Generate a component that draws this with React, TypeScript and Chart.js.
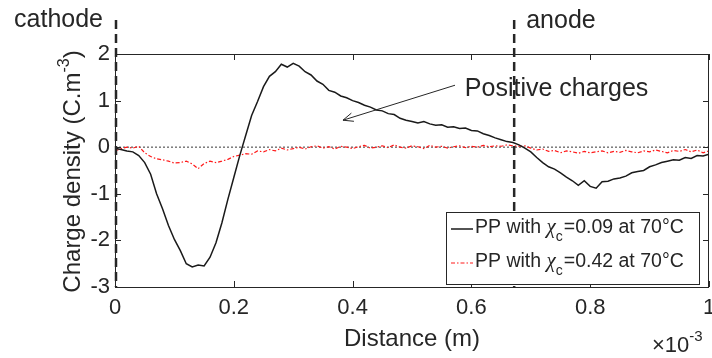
import { useEffect, useRef } from 'react';
import { Chart, registerables } from 'chart.js';
Chart.register(...registerables);

// Distance (×10^-3 m)
const distance = [
  0.00, 0.01, 0.02, 0.03, 0.04, 0.05, 0.06, 0.07, 0.08, 0.09,
  0.10, 0.11, 0.12, 0.13, 0.14, 0.15, 0.16, 0.17, 0.18, 0.19,
  0.20, 0.21, 0.22, 0.23, 0.24, 0.25, 0.26, 0.27, 0.28, 0.29,
  0.30, 0.31, 0.32, 0.33, 0.34, 0.35, 0.36, 0.37, 0.38, 0.39,
  0.40, 0.41, 0.42, 0.43, 0.44, 0.45, 0.46, 0.47, 0.48, 0.49,
  0.50, 0.51, 0.52, 0.53, 0.54, 0.55, 0.56, 0.57, 0.58, 0.59,
  0.60, 0.61, 0.62, 0.63, 0.64, 0.65, 0.66, 0.67, 0.68, 0.69,
  0.70, 0.71, 0.72, 0.73, 0.74, 0.75, 0.76, 0.77, 0.78, 0.79,
  0.80, 0.81, 0.82, 0.83, 0.84, 0.85, 0.86, 0.87, 0.88, 0.89,
  0.90, 0.91, 0.92, 0.93, 0.94, 0.95, 0.96, 0.97, 0.98, 0.99,
  1.00,
];

// PP with χc = 0.09 at 70°C (C.m^-3)
const chargeLowCryst = [
  -0.02, -0.05, -0.08, -0.10, -0.18, -0.33, -0.58, -1.00, -1.32, -1.68,
  -1.98, -2.22, -2.50, -2.57, -2.53, -2.55, -2.36, -2.05, -1.62, -1.12,
  -0.65, -0.18, 0.25, 0.68, 0.98, 1.30, 1.52, 1.62, 1.78, 1.72,
  1.80, 1.74, 1.62, 1.55, 1.42, 1.35, 1.22, 1.18, 1.10, 1.06,
  1.00, 0.96, 0.90, 0.86, 0.80, 0.78, 0.72, 0.70, 0.62, 0.58,
  0.55, 0.52, 0.55, 0.50, 0.47, 0.48, 0.43, 0.44, 0.40, 0.41,
  0.36, 0.35, 0.29, 0.25, 0.20, 0.16, 0.12, 0.10, 0.05, -0.02,
  -0.10, -0.22, -0.33, -0.42, -0.47, -0.55, -0.64, -0.72, -0.82, -0.72,
  -0.84, -0.88, -0.74, -0.73, -0.68, -0.66, -0.62, -0.55, -0.52, -0.50,
  -0.42, -0.38, -0.33, -0.30, -0.27, -0.28, -0.22, -0.24, -0.18, -0.19,
  -0.15,
];

// PP with χc = 0.42 at 70°C (C.m^-3)
const chargeHighCryst = [
  -0.08, -0.03, 0.00, -0.02, 0.02, -0.12, -0.20, -0.25, -0.27, -0.30,
  -0.34, -0.33, -0.30, -0.36, -0.46, -0.35, -0.30, -0.33, -0.30, -0.26,
  -0.20, -0.17, -0.14, -0.15, -0.08, -0.10, -0.05, -0.08, -0.02, -0.06,
  -0.03, 0.00, -0.04, 0.01, 0.03, -0.02, 0.01, -0.04, 0.02, 0.00,
  -0.03, 0.01, 0.04, -0.02, 0.00, 0.03, -0.01, 0.05, 0.00, -0.02,
  0.03, 0.01, -0.03, 0.04, 0.00, 0.02, -0.02, 0.01, 0.03, -0.01,
  0.02, 0.00, 0.04, 0.01, 0.03, 0.02, 0.05, 0.03, 0.02, 0.03,
  -0.02, -0.06, -0.04, -0.09, -0.07, -0.12, -0.08, -0.10, -0.13, -0.09,
  -0.12, -0.10, -0.08, -0.12, -0.09, -0.11, -0.07, -0.10, -0.12, -0.08,
  -0.10, -0.06, -0.09, -0.12, -0.07, -0.09, -0.05, -0.10, -0.06, -0.12,
  -0.08,
];

const zeroLineX = [0, 1];
const zeroLineY = [0, 0];

const cathodeX = 0;
const anodeX = 0.672;

const legendLabels = [
  { pre: 'PP with ', sub: 'c', post: '=0.09 at 70°C' },
  { pre: 'PP with ', sub: 'c', post: '=0.42 at 70°C' },
];

// "Positive charges" annotation (data coordinates)
const annotText = 'Positive charges';
const annotTextPos = { x: 0.589, y: 1.094 };
const arrowFrom = { x: 0.5724, y: 1.33 };
const arrowTo = { x: 0.3838, y: 0.579 };

const FONT = '"Liberation Sans", Arial, Helvetica, sans-serif';
const TXT = '#262626';

const fmtTick = (v: any) => String(+Number(v).toFixed(1));

const decorPlugin = {
  id: 'decor',
  afterDatasetsDraw(chart: any) {
    const { ctx, chartArea: ca, scales } = chart;
    const xs = scales.x, ys = scales.y;
    ctx.save();
    // frame
    ctx.strokeStyle = TXT;
    ctx.lineWidth = 1;
    ctx.setLineDash([]);
    ctx.strokeRect(ca.left + 0.5, ca.top + 0.5, ca.right - ca.left - 1, ca.bottom - ca.top);
    // inward ticks
    const tl = 6;
    ctx.beginPath();
    xs.ticks.forEach((t: any) => {
      const px = Math.round(xs.getPixelForValue(t.value)) + 0.5;
      ctx.moveTo(px, ca.bottom); ctx.lineTo(px, ca.bottom - tl);
      ctx.moveTo(px, ca.top); ctx.lineTo(px, ca.top + tl);
    });
    ys.ticks.forEach((t: any) => {
      const py = Math.round(ys.getPixelForValue(t.value)) + 0.5;
      ctx.moveTo(ca.left, py); ctx.lineTo(ca.left + tl, py);
      ctx.moveTo(ca.right, py); ctx.lineTo(ca.right - tl, py);
    });
    ctx.stroke();

    // electrode lines
    ctx.lineWidth = 2.5;
    ctx.setLineDash([9, 5]);
    [cathodeX, anodeX].forEach((v) => {
      const px = xs.getPixelForValue(v) + (v === cathodeX ? 1 : 0);
      ctx.beginPath();
      ctx.moveTo(px, ca.top - 34);
      ctx.lineTo(px, ca.bottom);
      ctx.stroke();
    });
    ctx.setLineDash([]);

    // electrode labels
    ctx.fillStyle = TXT;
    ctx.font = `25px ${FONT}`;
    ctx.textBaseline = 'alphabetic';
    ctx.textAlign = 'right';
    ctx.fillText('cathode', xs.getPixelForValue(cathodeX) - 12, ca.top - 27);
    ctx.textAlign = 'left';
    ctx.fillText('anode', xs.getPixelForValue(anodeX) + 12, ca.top - 26);

    // annotation
    ctx.fillText(annotText, xs.getPixelForValue(annotTextPos.x), ys.getPixelForValue(annotTextPos.y));
    const x1 = xs.getPixelForValue(arrowFrom.x), y1 = ys.getPixelForValue(arrowFrom.y);
    const x2 = xs.getPixelForValue(arrowTo.x), y2 = ys.getPixelForValue(arrowTo.y);
    ctx.strokeStyle = TXT;
    ctx.lineWidth = 1;
    ctx.beginPath();
    ctx.moveTo(x1, y1); ctx.lineTo(x2, y2);
    const ang = Math.atan2(y2 - y1, x2 - x1);
    const hl = 11, ha = 0.4;
    ctx.moveTo(x2 - hl * Math.cos(ang - ha), y2 - hl * Math.sin(ang - ha));
    ctx.lineTo(x2, y2);
    ctx.lineTo(x2 - hl * Math.cos(ang + ha), y2 - hl * Math.sin(ang + ha));
    ctx.stroke();

    // y-axis title with superscript
    ctx.save();
    ctx.translate(80, (ca.top + ca.bottom) / 2 + 1);
    ctx.rotate(-Math.PI / 2);
    const main = 'Charge density (C.m';
    ctx.font = `24px ${FONT}`;
    const w1 = ctx.measureText(main).width;
    const w3 = ctx.measureText(')').width;
    ctx.font = `16px ${FONT}`;
    const w2 = ctx.measureText('-3').width;
    const total = w1 + w2 + w3;
    let sx = -total / 2;
    ctx.textAlign = 'left';
    ctx.font = `24px ${FONT}`;
    ctx.fillText(main, sx, 0);
    sx += w1;
    ctx.font = `16px ${FONT}`;
    ctx.fillText('-3', sx, -11);
    sx += w2;
    ctx.font = `24px ${FONT}`;
    ctx.fillText(')', sx, 0);
    ctx.restore();

    // ×10^-3 multiplier
    ctx.font = `22px ${FONT}`;
    ctx.textAlign = 'left';
    ctx.fillText('×10', ca.right - 57, ca.bottom + 65);
    const wm = ctx.measureText('×10').width;
    ctx.font = `15px ${FONT}`;
    ctx.fillText('-3', ca.right - 57 + wm, ca.bottom + 54);
    ctx.restore();
  },
  afterDraw(chart: any) {
    const { ctx, chartArea: ca } = chart;
    ctx.save();
    const bx = ca.right - 263, by = ca.bottom - 75, bw = 253, bh = 72;
    ctx.fillStyle = '#ffffff';
    ctx.fillRect(bx, by, bw, bh);
    ctx.strokeStyle = TXT;
    ctx.lineWidth = 1;
    ctx.setLineDash([]);
    ctx.strokeRect(bx + 0.5, by + 0.5, bw, bh);
    const rows = [
      { color: '#1a1a1a', dash: [] as number[], width: 1.5 },
      { color: '#ff1a1a', dash: [4, 2, 1.5, 2], width: 1.2 },
    ];
    legendLabels.forEach((lab, i) => {
      const base = by + 21 + i * 34;
      const r = rows[i];
      ctx.strokeStyle = r.color;
      ctx.lineWidth = r.width;
      ctx.setLineDash(r.dash);
      ctx.beginPath();
      ctx.moveTo(bx + 5, base - 4);
      ctx.lineTo(bx + 27, base - 4);
      ctx.stroke();
      ctx.setLineDash([]);
      ctx.fillStyle = TXT;
      ctx.textAlign = 'left';
      ctx.textBaseline = 'alphabetic';
      let x = bx + 29;
      ctx.font = `19.5px ${FONT}`;
      ctx.fillText(lab.pre, x, base);
      x += ctx.measureText(lab.pre).width;
      ctx.font = `italic 21px "Liberation Serif", "Times New Roman", serif`;
      ctx.fillText('χ', x, base);
      x += ctx.measureText('χ').width;
      ctx.font = `14px ${FONT}`;
      ctx.fillText(lab.sub, x, base + 8);
      x += ctx.measureText(lab.sub).width + 1;
      ctx.font = `19.5px ${FONT}`;
      ctx.fillText(lab.post, x, base);
    });
    ctx.restore();
  },
};

export default function App() {
  const ref = useRef<HTMLCanvasElement | null>(null);
  useEffect(() => {
    if (!ref.current) return;
    const chart = new Chart(ref.current, {
      type: 'line',
      data: {
        datasets: [
          {
            label: 'PP with χc=0.09 at 70°C',
            data: distance.map((x, i) => ({ x, y: chargeLowCryst[i] })),
            borderColor: '#1a1a1a',
            borderWidth: 1.5,
            pointRadius: 0,
            tension: 0,
            order: 1,
          },
          {
            label: 'PP with χc=0.42 at 70°C',
            data: distance.map((x, i) => ({ x, y: chargeHighCryst[i] })),
            borderColor: '#ff1a1a',
            borderWidth: 1.2,
            borderDash: [4, 2, 1.5, 2],
            pointRadius: 0,
            tension: 0,
            order: 2,
          },
          {
            label: 'zero',
            data: zeroLineX.map((x, i) => ({ x, y: zeroLineY[i] })),
            borderColor: '#7a7a7a',
            borderWidth: 1.5,
            borderDash: [2, 2],
            pointRadius: 0,
            order: 3,
          },
        ],
      },
      options: {
        animation: false,
        responsive: false,
        layout: { padding: { top: 54, right: 3, left: 0, bottom: 0 } },
        plugins: { legend: { display: false }, tooltip: { enabled: false } },
        scales: {
          x: {
            type: 'linear',
            min: 0,
            max: 1,
            ticks: { stepSize: 0.2, color: TXT, font: { size: 22, family: FONT }, padding: 8, maxRotation: 0, callback: fmtTick },
            grid: { display: false, drawTicks: false },
            border: { display: false },
            title: { display: true, text: 'Distance (m)', color: TXT, font: { size: 24, family: FONT }, padding: { top: 0, bottom: 4 } },
            afterFit: (s: any) => { s.height = 71; s.paddingLeft = 0; s.paddingRight = 0; },
          },
          y: {
            type: 'linear',
            min: -3,
            max: 2,
            ticks: { stepSize: 1, color: TXT, font: { size: 22, family: FONT }, padding: 5, callback: fmtTick },
            grid: { display: false, drawTicks: false },
            border: { display: false },
            afterFit: (s: any) => { s.width = 115; },
          },
        },
      },
      plugins: [decorPlugin],
    } as any);
    return () => chart.destroy();
  }, []);
  return (
    <div style={{ position: 'fixed', left: 0, top: 0, width: 712, height: 358, background: '#fff' }}>
      <canvas ref={ref} width={712} height={358} style={{ display: 'block' }} />
    </div>
  );
}
